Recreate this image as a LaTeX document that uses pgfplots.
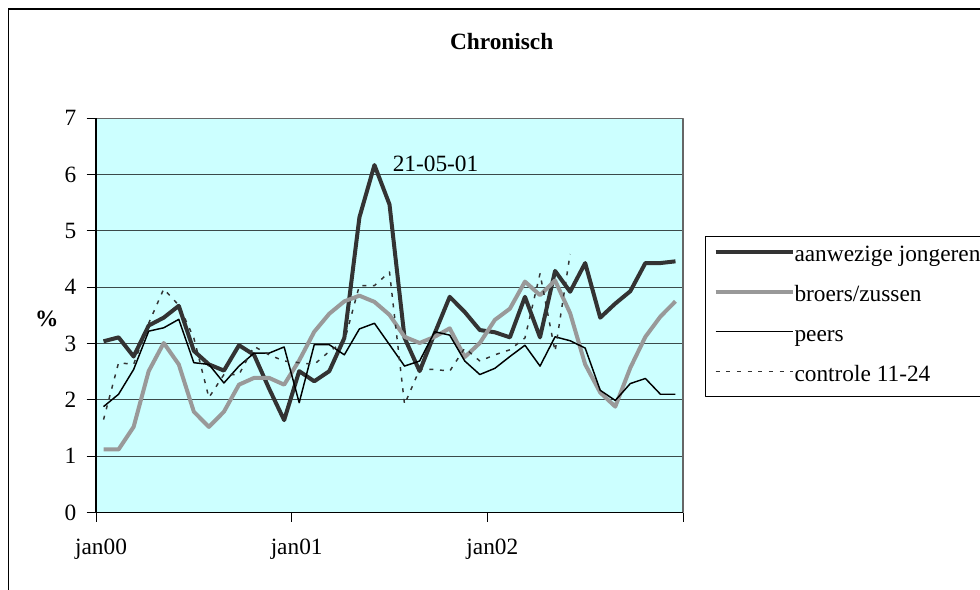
\documentclass[border=0pt]{standalone}
\usepackage{pgfplots}
\pgfplotsset{compat=1.18}
\usepackage{fontspec}
\setmainfont{Liberation Serif}
\definecolor{darkline}{HTML}{333333}
\definecolor{grayline}{HTML}{999999}
\definecolor{plotbg}{HTML}{CCFFFF}
\definecolor{gridc}{HTML}{3A4A4A}
\newcommand{\cf}{\fontsize{17.5}{21}\selectfont}
\begin{document}
\begin{tikzpicture}
\path[use as bounding box] (0,0) rectangle (735pt,441.75pt);
\draw[black, line width=1pt] (6.375pt,-10pt) -- (6.375pt,435pt) -- (760pt,435pt);
\begin{axis}[
  at={(72pt,57.375pt)}, anchor=south west,
  scale only axis, width=440.25pt, height=295.65pt,
  clip=false,
  xmin=0, xmax=39, ymin=0, ymax=7,
  xtick={0,13,26,39}, xticklabels={jan00,jan01,jan02,{}},
  ytick={0,1,2,3,4,5,6,7},
  xtick pos=bottom, ytick pos=left,
  tick align=outside, major tick length=7pt,
  tick style={black, line width=0.75pt},
  ymajorgrids, grid style={gridc, line width=0.8pt},
  axis background/.style={fill=plotbg},
  axis line style={draw=gray!80!black, line width=1.2pt},
  /pgf/number format/assume math mode=true,
  tick label style={font=\cf},
  yticklabel style={anchor=east, inner sep=0pt, xshift=-7.5pt},
  xticklabel style={anchor=north, inner sep=0pt, xshift=3.75pt, yshift=-13pt},
  legend style={at={(1.0375,0.7014)}, anchor=north west, draw=black, line width=0.75pt,
    fill=white, font=\cf, inner xsep=6pt, inner ysep=7pt, row sep=14pt,
    nodes={inner sep=0pt, text height=12pt, text depth=4pt}},
  legend cell align=left,
  legend image code/.code={\draw[#1] (0pt,3.75pt) -- (57.75pt,3.75pt);},
  line join=round,
]
\addplot[darkline, line width=3pt] coordinates {
(0.5,3.04)(1.5,3.11)(2.5,2.77)(3.5,3.32)(4.5,3.46)(5.5,3.67)(6.5,2.87)(7.5,2.63)
(8.5,2.52)(9.5,2.97)(10.5,2.80)(11.5,2.20)(12.5,1.64)(13.5,2.51)(14.5,2.33)(15.5,2.51)
(16.5,3.10)(17.5,5.24)(18.5,6.17)(19.5,5.47)(20.5,3.10)(21.5,2.51)(22.5,3.18)(23.5,3.83)
(24.5,3.56)(25.5,3.24)(26.5,3.20)(27.5,3.11)(28.5,3.83)(29.5,3.11)(30.5,4.29)(31.5,3.92)
(32.5,4.43)(33.5,3.46)(34.5,3.71)(35.5,3.93)(36.5,4.43)(37.5,4.43)(38.5,4.46)};
\addlegendentry{aanwezige jongeren}
\addplot[grayline, line width=3pt] coordinates {
(0.5,1.12)(1.5,1.12)(2.5,1.52)(3.5,2.51)(4.5,3.01)(5.5,2.63)(6.5,1.79)(7.5,1.52)
(8.5,1.79)(9.5,2.27)(10.5,2.39)(11.5,2.39)(12.5,2.27)(13.5,2.70)(14.5,3.21)(15.5,3.53)
(16.5,3.75)(17.5,3.85)(18.5,3.74)(19.5,3.51)(20.5,3.12)(21.5,3.01)(22.5,3.12)(23.5,3.27)
(24.5,2.76)(25.5,3.01)(26.5,3.42)(27.5,3.62)(28.5,4.10)(29.5,3.86)(30.5,4.12)(31.5,3.54)
(32.5,2.63)(33.5,2.13)(34.5,1.88)(35.5,2.57)(36.5,3.12)(37.5,3.48)(38.5,3.75)};
\addlegendentry{broers/zussen}
\addplot[black, line width=1.1pt] coordinates {
(0.5,1.88)(1.5,2.10)(2.5,2.54)(3.5,3.22)(4.5,3.28)(5.5,3.43)(6.5,2.66)(7.5,2.63)
(8.5,2.30)(9.5,2.60)(10.5,2.83)(11.5,2.83)(12.5,2.94)(13.5,1.95)(14.5,2.98)(15.5,2.98)
(16.5,2.80)(17.5,3.26)(18.5,3.36)(19.5,2.98)(20.5,2.60)(21.5,2.69)(22.5,3.21)(23.5,3.15)
(24.5,2.69)(25.5,2.45)(26.5,2.56)(27.5,2.77)(28.5,2.97)(29.5,2.60)(30.5,3.12)(31.5,3.05)
(32.5,2.92)(33.5,2.17)(34.5,1.99)(35.5,2.29)(36.5,2.38)(37.5,2.10)(38.5,2.10)};
\addlegendentry{peers}
\addplot[darkline, line width=1.1pt, dash pattern=on 3pt off 5pt] coordinates {
(0.5,1.65)(1.5,2.66)(2.5,2.63)(3.5,3.36)(4.5,3.97)(5.5,3.68)(6.5,3.10)(7.5,2.04)
(8.5,2.45)(9.5,2.45)(10.5,2.95)(11.5,2.80)(12.5,2.69)(13.5,2.66)(14.5,2.63)(15.5,2.86)
(16.5,3.04)(17.5,4.03)(18.5,4.03)(19.5,4.27)(20.5,1.92)(21.5,2.54)(22.5,2.54)(23.5,2.51)
(24.5,2.92)(25.5,2.69)(26.5,2.80)(27.5,2.89)(28.5,3.10)(29.5,4.24)(30.5,2.86)(31.5,4.59)};
\addlegendentry{controle 11-24}
\draw[black, line width=1.2pt] (rel axis cs:0,1) -- (rel axis cs:0,0) -- (rel axis cs:1,0);
\node[anchor=base, font=\cf] at (axis cs:22.56,6.05) {21-05-01};
\node[anchor=base, font=\cf\bfseries] at (axis description cs:0.6911,1.175) {Chronisch};
\node[anchor=base, font=\cf\bfseries] at (axis description cs:-0.084,0.473) {\%};
\end{axis}
\end{tikzpicture}
\end{document}
